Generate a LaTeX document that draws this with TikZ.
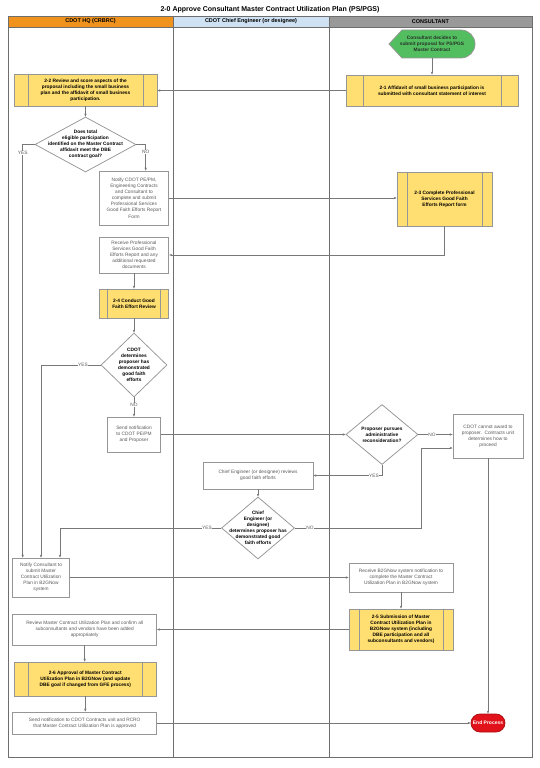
\documentclass[tikz,border=0pt]{standalone}
\usepackage{fontspec}
\setmainfont{Liberation Sans}
\usetikzlibrary{shapes.geometric,arrows.meta,calc}

\definecolor{hqorange}{RGB}{240,146,30}
\definecolor{cheblue}{RGB}{207,226,243}
\definecolor{congray}{RGB}{153,153,153}
\definecolor{procyellow}{RGB}{255,223,113}
\definecolor{startgreen}{RGB}{82,190,96}
\definecolor{endred}{RGB}{225,18,25}
\definecolor{boxgray}{RGB}{150,150,150}
\definecolor{linegray}{RGB}{120,120,120}
\definecolor{lanegray}{RGB}{110,110,110}
\definecolor{textgray}{RGB}{90,90,90}

\tikzset{every picture/.style={line width=0.75pt}}
\tikzset{
	lane/.style={draw=lanegray, line width=0.9pt},
	lanehead/.style={font=\bfseries\fontsize{5.5}{6.5}\selectfont, inner sep=0pt},
	box/.style={draw=boxgray, fill=white, text=textgray, font=\fontsize{4.8}{6.1}\selectfont, align=center, inner sep=0pt},
	subproc/.style={draw=boxgray, fill=procyellow, font=\bfseries\fontsize{4.8}{6.1}\selectfont, align=center, inner sep=0pt,
		path picture={\draw[boxgray] ([xshift=#1]path picture bounding box.north west) -- ([xshift=#1]path picture bounding box.south west);
			\draw[boxgray] ([xshift=-#1]path picture bounding box.north east) -- ([xshift=-#1]path picture bounding box.south east);}},
	subproc/.default=14pt,
	decision/.style={diamond, draw=boxgray, fill=white, inner sep=0pt},
	dtext/.style={font=\bfseries\fontsize{4.8}{6.1}\selectfont, align=center, inner sep=0pt},
	flow/.style={draw=linegray, line width=0.8pt, -{Stealth[length=3pt,width=2.4pt]}},
	answer/.style={fill=white, text=textgray, font=\fontsize{4.8}{5}\selectfont, inner sep=0.6pt},
}

\begin{document}
\begin{tikzpicture}[x=1pt,y=1pt,yscale=-1,xscale=1]
	\useasboundingbox (0,0) rectangle (540,768);

	% Text Node
	\node (title) at (270,9.5) [font=\bfseries\fontsize{7}{8}\selectfont, inner sep=0pt] {2-0 Approve Consultant Master Contract Utilization Plan (PS/PGS)};

	%Shape: Rectangle
	\draw [lane, fill=hqorange] (8,16) rectangle (173,27);
	%Shape: Rectangle
	\draw [lane, fill=cheblue] (173,16) rectangle (329,27);
	%Shape: Rectangle
	\draw [lane, fill=congray] (329,16) rectangle (532,27);
	%Shape: Rectangle
	\draw [lane] (8,27) rectangle (173,757);
	%Shape: Rectangle
	\draw [lane] (173,27) rectangle (329,757);
	%Shape: Rectangle
	\draw [lane] (329,27) rectangle (532,757);

	% Text Node
	\node (hq) at (90.5,21.5) [lanehead] {CDOT HQ (CRBRC)};
	% Text Node
	\node (ce) at (251,21.5) [lanehead] {CDOT Chief Engineer (or designee)};
	% Text Node
	\node (con) at (430.5,21.5) [lanehead] {CONSULTANT};

	%Shape: Display
	\draw [draw=boxgray, fill=startgreen] (389,44) -- (402,30) -- (461,30) arc (-90:90:14) -- (402,58) -- cycle;
	% Text Node
	\node (st) at (432,44) [minimum width=86pt, minimum height=28pt, inner sep=0pt, align=center, text={rgb,255:red,40;green,50;blue,40}, font=\bfseries\fontsize{4.8}{6.1}\selectfont] {Consultant decides to\\submit proposal for PS/PGS\\Master Contract};

	%Shape: Predefined Process
	\node (a21) at (432,90.5) [subproc=17pt, minimum width=172pt, minimum height=31pt] {2-1 Affidavit of small business participation is\\submitted with consultant statement of interest};
	\node (a22) at (85.5,90) [subproc=14pt, minimum width=143pt, minimum height=32pt] {2-2 Review and score aspects of the\\proposal including the small business\\plan and the affidavit of small business\\participation.};

	%Shape: Diamond
	\node (d1) at (85.5,144.5) [decision, minimum width=101pt, minimum height=55pt] {};
	\node (d1t) at (d1) [dtext] {Does total\\eligible participation\\identified on the Master Contract\\affidavit meet the DBE\\contract goal?};

	%Shape: Rectangle
	\node (nc1) at (134,198) [box, minimum width=69.4pt, minimum height=54pt] {Notify CDOT PE/PM,\\Engineering Contracts\\and Consultant to\\complete and submit\\Professional Services\\Good Faith Efforts Report\\Form};
	\node (a23) at (444.5,199) [subproc=10pt, minimum width=95pt, minimum height=54pt] {2-3 Complete Professional\\Services Good Faith\\Efforts Report form};
	\node (rp) at (134,255) [box, minimum width=69.7pt, minimum height=36pt] {Receive Professional\\Services Good Faith\\Efforts Report and any\\additional requested\\documents};
	\node (a24) at (134,303.5) [subproc=8pt, minimum width=69.4pt, minimum height=29pt] {2-4 Conduct Good\\Faith Effort Review};

	%Shape: Diamond
	\node (d2) at (134,365) [decision, minimum width=66pt, minimum height=64pt] {};
	\node (d2t) at (d2) [dtext] {CDOT\\determines\\proposer has\\demonstrated\\good faith\\efforts};

	%Shape: Rectangle
	\node (sn) at (134,434.5) [box, minimum width=53pt, minimum height=35pt] {Send notification\\to CDOT PE/PM\\and Proposer};

	%Shape: Diamond
	\node (d3) at (382,434.5) [decision, minimum width=72pt, minimum height=60pt] {};
	\node (d3t) at (d3) [dtext] {Proposer pursues\\administrative\\reconsideration?};

	%Shape: Rectangle
	\node (cn) at (488,436) [box, minimum width=70pt, minimum height=44pt] {CDOT cannot award to\\proposer.\ \ Contracts unit\\determines how to\\proceed};
	\node (cr) at (258,475.5) [box, minimum width=110pt, minimum height=27pt] {Chief Engineer (or designee) reviews\\good faith efforts};

	%Shape: Diamond
	\node (d4) at (258,528) [decision, minimum width=73pt, minimum height=62pt] {};
	\node (d4t) at (d4) [dtext] {Chief\\Engineer (or\\designee)\\determines proposer has\\demonstrated good\\faith efforts};

	%Shape: Rectangle
	\node (ncs) at (41,577.5) [box, minimum width=56.3pt, minimum height=39pt] {Notify Consultant to\\submit Master\\Contract Utilization\\Plan in B2GNow\\system};
	\node (rb) at (401,577.5) [box, minimum width=104pt, minimum height=29pt] {Receive B2GNow system notification to\\complete the Master Contract\\Utilization Plan in B2GNow system};
	\node (a25) at (401,629.5) [subproc=10pt, minimum width=104pt, minimum height=41pt] {2-5 Submission of Master\\Contract Utilization Plan in\\B2GNow system (including\\DBE participation and all\\subconsultants and vendors)};
	\node (rv) at (84.7,629.5) [box, minimum width=144pt, minimum height=31pt] {Review Master Contract Utilization Plan and confirm all\\subconsultants and vendors have been added\\appropriately};
	\node (a26) at (85.3,679) [subproc=14pt, minimum width=142.7pt, minimum height=34pt] {2-6 Approval of Master Contract\\Utilization Plan in B2GNow (and update\\DBE goal if changed from GFE process)};
	\node (sc) at (84.7,723) [box, minimum width=144pt, minimum height=22pt] {Send notification to CDOT Contracts unit and RCRO\\that Master Contract Utilization Plan is approved};

	%Shape: Terminator
	\node (ep) at (488,723) [draw=endred!75!black, fill=endred, rounded corners=9pt, minimum width=34pt, minimum height=18pt, inner sep=0pt, text=white, font=\bfseries\fontsize{5}{6}\selectfont] {End Process};

	%Straight Lines
	\draw [flow] (st.south) -- (a21.north);
	\draw [flow] (a21.west) -- (a21.west -| a22.east);
	\draw [flow] (a22.south) -- (d1.north);
	\draw [flow] (d1.west) -| ($(ncs.north)+(-18.3,0)$);
	\draw [flow] (d1.east) -| ($(nc1.north)+(11.7,0)$);
	\draw [flow] (nc1.east) -- (nc1.east -| a23.west);
	\draw [flow] (a23.south) |- (rp.east);
	\draw [flow] (rp.south) -- (a24.north);
	\draw [flow] (a24.south) -- (d2.north);
	\draw [flow] (d2.west) -| (ncs.north);
	\draw [flow] (d2.south) -- (sn.north);
	\draw [flow] (sn.east) -- (d3.west);
	\draw [flow] (d3.east) -- (d3.east -| cn.west);
	\draw [flow] (d3.south) |- (cr.east);
	\draw [flow] (cr.south) -- (d4.north);
	\draw [flow] (d4.west) -| ($(ncs.north)+(19,0)$);
	\draw [flow] (d4.east) -- (421,528) |- ($(cn.west)+(0,12)$);
	\draw [flow] (cn.south) -- (ep.north);
	\draw [flow] (ncs.east) -- (ncs.east -| rb.west);
	\draw [flow] (rb.south) -- (a25.north);
	\draw [flow] (a25.west) -- (a25.west -| rv.east);
	\draw [flow] (rv.south) -- (rv.south |- a26.north);
	\draw [flow] (a26.south) -- (a26.south |- sc.north);
	\draw [flow] (sc.east) -- (ep.west);

	% Text Node
	\node (yes1) at (22.7,153) [answer] {YES};
	\node (no1) at (145.7,152) [answer] {NO};
	\node (yes2) at (83,365) [answer] {YES};
	\node (no2) at (134,405) [answer] {NO};
	\node (no3) at (432,434.5) [answer] {NO};
	\node (yes3) at (374,475.5) [answer] {YES};
	\node (yes4) at (207,528) [answer] {YES};
	\node (no4) at (310,528) [answer] {NO};
\end{tikzpicture}
\end{document}
